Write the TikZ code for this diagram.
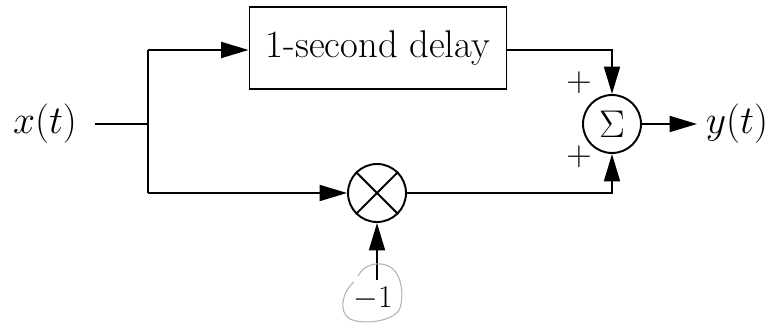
\RequirePackage{fix-cm}
\documentclass[tikz,border=0pt]{standalone}
\usetikzlibrary{arrows.meta}
\begin{document}
\begin{tikzpicture}[x=0.02cm,y=-0.02cm,
  line width=1.1pt,
  txt/.style={font=\fontsize{22.5}{26}\selectfont, inner sep=0pt},
  sml/.style={font=\fontsize{20}{24}\selectfont, inner sep=0pt},
  arr/.style={-{Triangle[length=5.5mm,width=3.2mm]}},
  blk/.style={draw, minimum width=5.14cm, minimum height=1.64cm, font=\fontsize{22}{26}\selectfont},
  opc/.style={draw, circle, minimum size=1.16cm, inner sep=0pt}]
\useasboundingbox (0,0) rectangle (773,327);
\node[txt] (x) at (45,124) {$x(t)$};
\coordinate (j) at (148,124);
\coordinate (jt) at (148,50);
\coordinate (jb) at (148,193);
\node[blk] (d) at (378,48) {1-second delay};
\node[opc] (s) at (612,124) {\fontsize{22}{26}\selectfont$\Sigma$};
\node[opc] (m) at (377,193) {};
\draw (m.north west) -- (m.south east) (m.north east) -- (m.south west);
\node[txt] (y) at (737,124) {$y(t)$};
\node[txt, font=\fontsize{18}{22}\selectfont] (n) at (373,299) {$-1$};
\coordinate (o) at (697,124);
\coordinate (tr) at (612,50);
\coordinate (br) at (612,193);
\node[sml] at (579,83) {$+$};
\node[sml] at (579,157) {$+$};
\draw (95,124) -- (j);
\draw (jt) -- (jb);
\draw[arr] (jt) -- (d.west |- jt);
\draw[arr] (d.east |- tr) -- (tr) -- (s.north);
\draw[arr] (jb) -- (m.west);
\draw[arr] (m.east) -- (br) -- (s.south);
\draw[arr] (s.east) -- (o);
\draw[arr] (m.south |- 0,280) -- (m.south);
\draw[gray!60, line width=0.6pt] (358,276) .. controls (364,264) and (380,260) .. (392,268)
  .. controls (402,276) and (404,296) .. (400,308)
  .. controls (396,320) and (366,326) .. (350,319)
  .. controls (338,312) and (342,292) .. (354,282);
\end{tikzpicture}
\end{document}
